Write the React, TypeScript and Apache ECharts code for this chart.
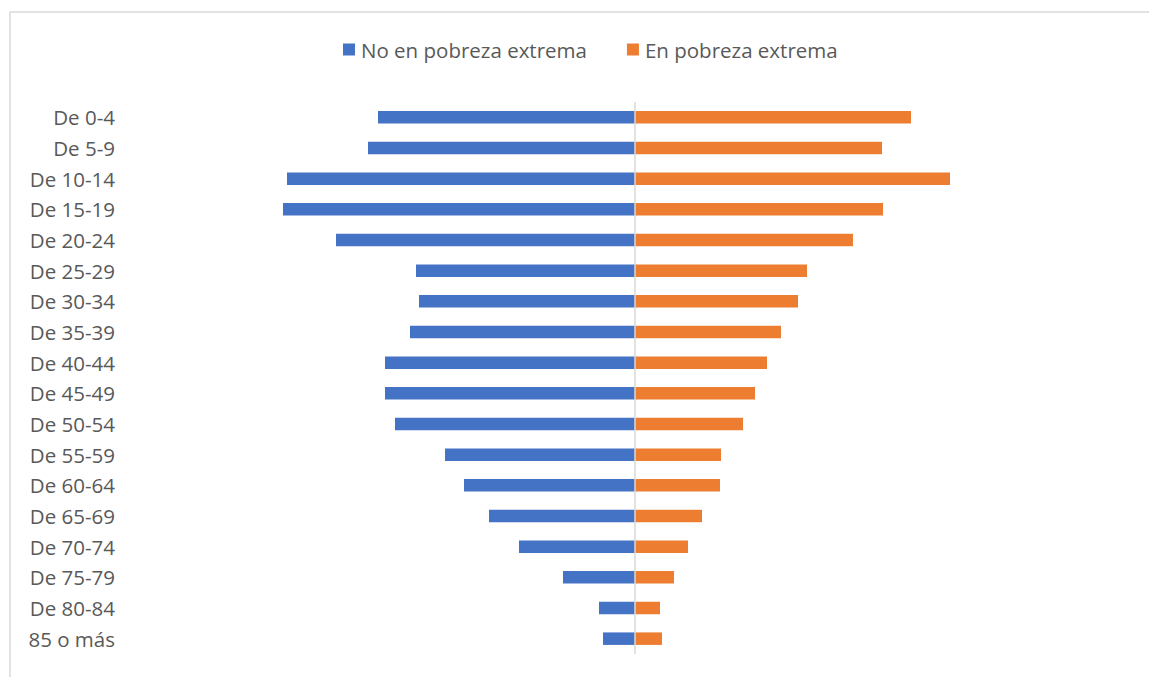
import React, { useEffect, useRef } from "react";
import * as echarts from "echarts";

const categories = [
  "De 0-4", "De 5-9", "De 10-14", "De 15-19", "De 20-24", "De 25-29",
  "De 30-34", "De 35-39", "De 40-44", "De 45-49", "De 50-54", "De 55-59",
  "De 60-64", "De 65-69", "De 70-74", "De 75-79", "De 80-84", "85 o más",
];
const noPobrezaExtrema = [
  25.7, 26.7, 34.8, 35.2, 29.9, 21.9, 21.6, 22.5, 25.0, 25.0, 24.0, 19.0,
  17.1, 14.6, 11.6, 7.2, 3.6, 3.2,
];
const enPobrezaExtrema = [
  27.6, 24.7, 31.5, 24.8, 21.8, 17.2, 16.3, 14.6, 13.2, 12.0, 10.8, 8.6,
  8.5, 6.7, 5.3, 3.9, 2.5, 2.7,
];
const axisMax = 51;

export default function App() {
  const ref = useRef<HTMLDivElement>(null);
  useEffect(() => {
    if (!ref.current) return;
    const chart = echarts.init(ref.current, null, { renderer: "svg" });
    const font = "'Open Sans', sans-serif";
    chart.setOption({
      animation: false,
      backgroundColor: "#ffffff",
      graphic: [
        {
          type: "rect",
          shape: { x: 10, y: 12, width: 1300, height: 800 },
          style: { fill: "none", stroke: "#d9d9d9", lineWidth: 1.5 },
          silent: true,
          z: -10,
        },
      ],
      legend: {
        left: 338,
        top: 34,
        itemWidth: 12,
        itemHeight: 12,
        itemGap: 40,
        icon: "rect",
        textStyle: { color: "#595959", fontSize: 20.5, fontFamily: font, padding: [0, 0, 0, 1] },
        data: ["No en pobreza extrema", "En pobreza extrema"],
      },
      grid: { left: 125, right: 4, top: 102, bottom: 23, containLabel: false },
      xAxis: {
        type: "value",
        min: -axisMax,
        max: axisMax,
        show: false,
        splitLine: { show: false },
      },
      yAxis: {
        type: "category",
        data: categories,
        inverse: true,
        axisLine: { show: false },
        axisTick: { show: false },
        axisLabel: {
          color: "#595959",
          fontSize: 20.5,
          fontFamily: font,
          margin: 10,
        },
      },
      series: [
        {
          name: "No en pobreza extrema",
          type: "bar",
          stack: "total",
          barWidth: 12.5,
          itemStyle: { color: "#4472c4" },
          data: noPobrezaExtrema.map((v) => -v),
          markLine: {
            silent: true,
            symbol: "none",
            label: { show: false },
            lineStyle: { color: "#d9d9d9", width: 1.5, type: "solid" },
            data: [{ xAxis: 0 }],
          },
        },
        {
          name: "En pobreza extrema",
          type: "bar",
          stack: "total",
          barWidth: 12.5,
          itemStyle: { color: "#ed7d31" },
          data: enPobrezaExtrema,
        },
      ],
    });
    return () => chart.dispose();
  }, []);
  return (
    <div
      ref={ref}
      style={{ position: "fixed", left: 0, top: 0, width: 1149, height: 677 }}
    />
  );
}
